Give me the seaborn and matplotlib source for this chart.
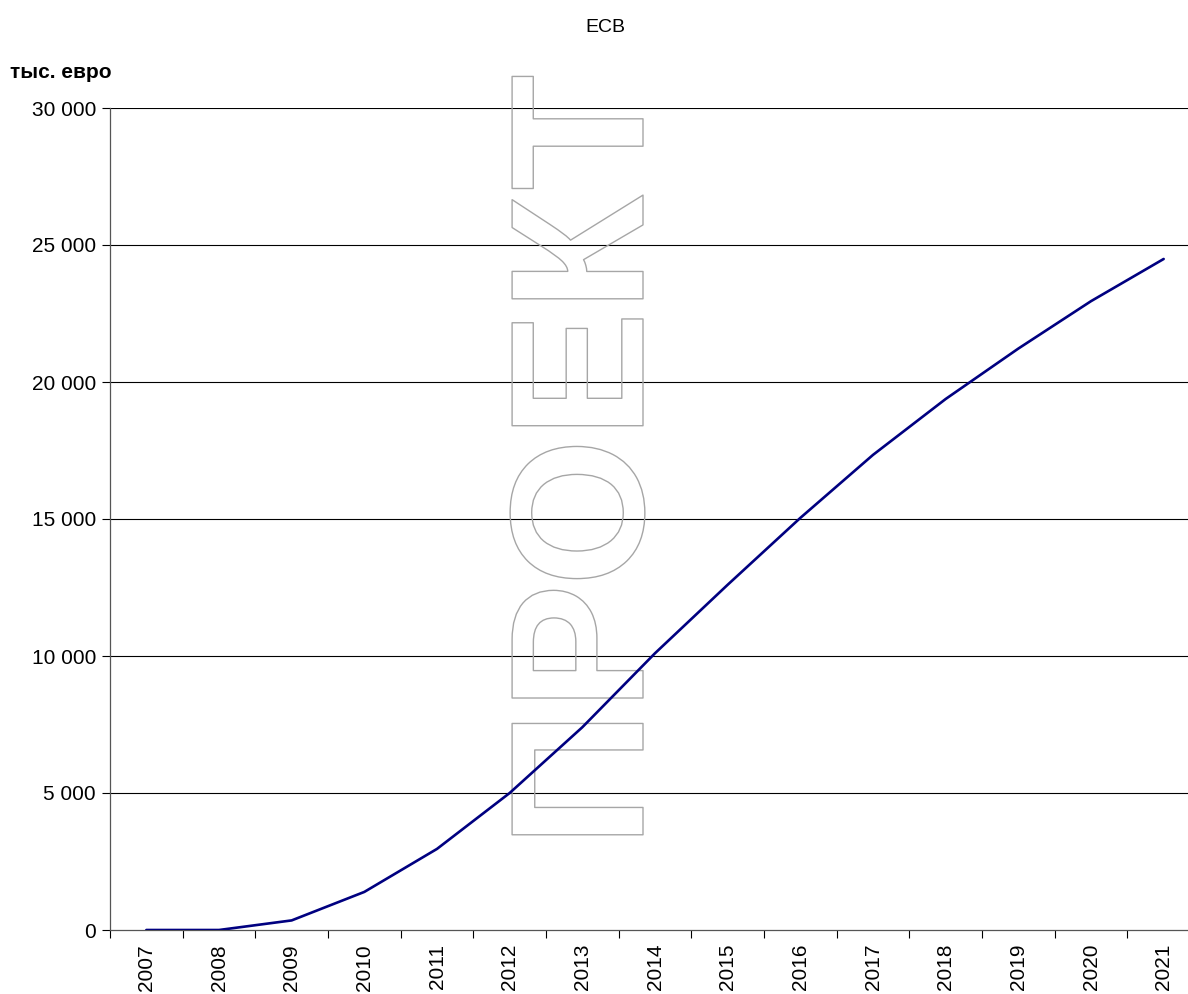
import numpy as np
import pandas as pd
import matplotlib
matplotlib.use('Agg')
import matplotlib.pyplot as plt
import matplotlib.patheffects as pe
import seaborn as sns

# данные
years = ['2007', '2008', '2009', '2010', '2011', '2012', '2013', '2014',
         '2015', '2016', '2017', '2018', '2019', '2020', '2021']
values = [0, 0, 350, 1390, 2960, 5000, 7400, 10100, 12600, 15040,
          17340, 19380, 21220, 22950, 24490]
y_ticks = [0, 5000, 10000, 15000, 20000, 25000, 30000]
y_labels = ['0', '5 000', '10 000', '15 000', '20 000', '25 000', '30 000']

df = pd.DataFrame({'pos': np.arange(len(years)), 'value': values})

sns.set_theme(style='white')
plt.rcParams['font.family'] = ['Liberation Sans', 'DejaVu Sans']
plt.rcParams['text.color'] = 'black'
plt.rcParams['xtick.color'] = 'black'
plt.rcParams['ytick.color'] = 'black'

fig = plt.figure(figsize=(11.88, 9.94), dpi=100)
ax = fig.add_axes([110 / 1188, 64 / 994, 1090 / 1188, 822 / 994])

# сетка
for t in y_ticks[1:]:
    ax.axhline(t, color='black', lw=0.8, zorder=0.5)

sns.lineplot(data=df, x='pos', y='value', color='#000080', lw=1.9, ax=ax, zorder=3)

ax.set_xlim(-0.5, len(years) - 0.5)
ax.set_ylim(0, 30000)
ax.set_yticks(y_ticks)
ax.set_yticklabels(y_labels, fontsize=15)
ax.set_xticks(np.arange(len(years)))
ax.set_xticklabels(years, rotation=90, fontsize=15)
ax.set_xticks(np.arange(len(years) + 1) - 0.5, minor=True)
ax.tick_params(axis='x', which='major', length=0, pad=10)
ax.tick_params(axis='x', which='minor', length=6, width=0.8, color='black', direction='out', bottom=True)
ax.tick_params(axis='y', length=6, width=0.8, color='black', direction='out', left=True, pad=4)
ax.set_xlabel('')
ax.set_ylabel('')

for s in ['top', 'right']:
    ax.spines[s].set_visible(False)
for s in ['left', 'bottom']:
    ax.spines[s].set_color('#555555')
    ax.spines[s].set_linewidth(0.9)

# водяной знак
ax.text(594 / 1188, 1 - 461 / 994, 'ПРОЕКТ', transform=fig.transFigure,
        rotation=90, ha='center', va='center', fontsize=137, fontweight='bold',
        color='none',
        path_effects=[pe.Stroke(linewidth=1.0, foreground='#a6a6a6')],
        zorder=1, clip_on=False)

fig.text(605 / 1188, 1 - 27 / 994, 'ECB', ha='center', va='center', fontsize=14)
fig.text(10 / 1188, 1 - 72 / 994, 'тыс. евро', ha='left', va='center',
         fontsize=15, fontweight='bold')

fig.savefig('out.png', dpi=100)
